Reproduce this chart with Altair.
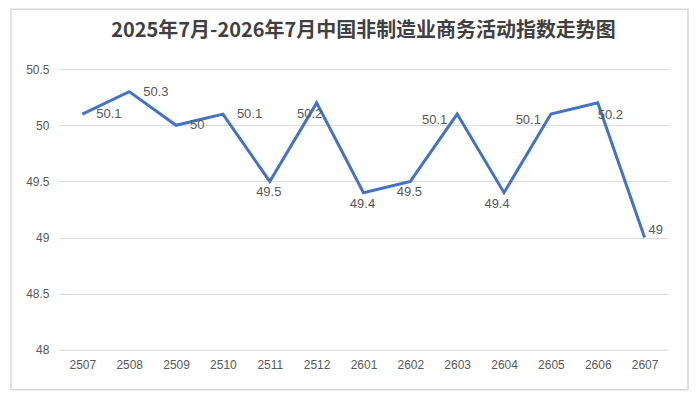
import altair as alt
import pandas as pd

months = ["2507", "2508", "2509", "2510", "2511", "2512", "2601",
          "2602", "2603", "2604", "2605", "2606", "2607"]
values = [50.1, 50.3, 50.0, 50.1, 49.5, 50.2, 49.4, 49.5, 50.1, 49.4, 50.1, 50.2, 49.0]
y_ticks = [48, 48.5, 49, 49.5, 50, 50.5]
title_text = "2025年7月-2026年7月中国非制造业商务活动指数走势图"

# label placement groups
label_right = ["2507", "2508", "2509", "2510"]
label_below = ["2511", "2601", "2602"]
label_below_left = ["2512", "2604"]
label_left = ["2603", "2605"]
label_below_right = ["2606"]
label_above_right = ["2607"]

df = pd.DataFrame({"m": months, "v": values})

FONT = "Liberation Sans"
LABEL_COLOR = "#595959"

x_enc = alt.X("m:N", sort=months, title=None,
              axis=alt.Axis(labelAngle=0, ticks=False, domain=False, grid=False,
                            labelPadding=10, labelFontSize=12, labelColor=LABEL_COLOR,
                            labelFont=FONT))
y_enc = alt.Y("v:Q", title=None,
              scale=alt.Scale(domain=[48, 50.5], nice=False, zero=False),
              axis=alt.Axis(values=y_ticks, ticks=False, domain=False, grid=True,
                            gridColor="#d9d9d9", gridWidth=1, labelPadding=10,
                            labelFontSize=12, labelColor=LABEL_COLOR, labelFont=FONT,
                            labelExpr="'' + datum.value"))

base = alt.Chart(df).transform_calculate(lab="'' + datum.v")

line = base.mark_line(color="#4472C4", strokeWidth=3, strokeJoin="miter").encode(x=x_enc, y=y_enc)


def labels(group, align, dx, dy):
    return base.mark_text(align=align, baseline="middle", dx=dx, dy=dy, fontSize=13,
                          color=LABEL_COLOR, font=FONT).encode(
        x=alt.X("m:N", sort=months), y=alt.Y("v:Q"), text="lab:N"
    ).transform_filter(alt.FieldOneOfPredicate(field="m", oneOf=group))


frame = alt.Chart(alt.Data(values=[{"a": 1}])).mark_rect(
    fill="transparent", stroke="#d9d9d9", strokeWidth=1.5
).encode(x=alt.value(-48), x2=alt.value(630), y=alt.value(-60), y2=alt.value(321))

chart = alt.layer(
    frame,
    line,
    labels(label_right, "left", 14, 0),
    labels(label_below, "center", -1, 11),
    labels(label_below_left, "center", -7, 11),
    labels(label_left, "right", -10, 6),
    labels(label_below_right, "left", 0, 12),
    labels(label_above_right, "left", 4, -8),
).properties(
    width=610, height=281,
    padding={"left": 2, "top": 0, "right": 0, "bottom": 0},
    background="white",
    title=alt.TitleParams(title_text, fontSize=20, font="Noto Sans CJK SC",
                          fontWeight="bold", color="#404040", anchor="middle",
                          offset=-33),
).configure_view(stroke=None)

chart.save("out.html", embed_options={"renderer": "svg", "actions": False})
